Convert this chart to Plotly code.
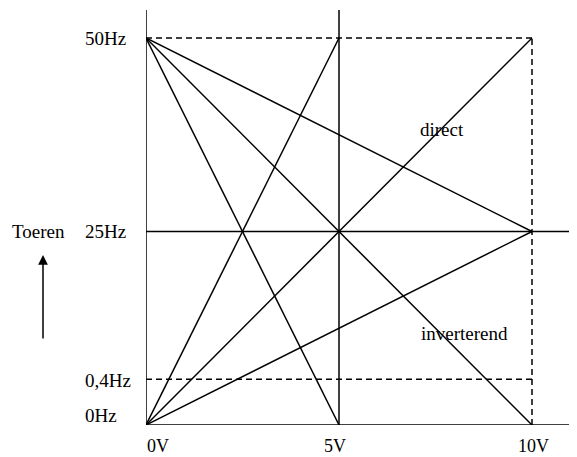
import plotly.graph_objects as go

# Axis values and labels
volts = [0, 5, 10]
volt_labels = ["0V", "5V", "10V"]
freq_pos = [0, 5.9, 25, 50]          # schematic positions on the vertical axis
freq_labels = ["0Hz", "0,4Hz", "25Hz", "50Hz"]

# Characteristic lines (start V, start Hz-pos, end V, end Hz-pos)
direct_lines = [(0, 0, 5, 50), (0, 0, 10, 50), (0, 0, 10, 25)]
invert_lines = [(0, 50, 5, 0), (0, 50, 10, 0), (0, 50, 10, 25)]

X_MAX = 431 * 10 / 386
Y_MAX = 415 * 50 / 387
FONT = "Liberation Serif, Times New Roman, serif"

fig = go.Figure()

def seg(x0, y0, x1, y1, dash="solid"):
    fig.add_trace(go.Scatter(x=[x0, x1], y=[y0, y1], mode="lines",
                             line=dict(color="black", width=1.5, dash=dash),
                             cliponaxis=False, hoverinfo="skip", showlegend=False))

# Frame lines (solid)
seg(volts[0], freq_pos[0], volts[0], Y_MAX)
seg(volts[1], freq_pos[0], volts[1], Y_MAX)
seg(volts[0], freq_pos[0], X_MAX, freq_pos[0])
seg(volts[0], freq_pos[2], X_MAX, freq_pos[2])

# Dashed lines
seg(volts[0], freq_pos[3], volts[2], freq_pos[3], dash="6px,4px")
seg(volts[0], freq_pos[1], volts[2], freq_pos[1], dash="6px,4px")
seg(volts[2], freq_pos[0], volts[2], freq_pos[3], dash="6px,4px")

for x0, y0, x1, y1 in direct_lines + invert_lines:
    seg(x0, y0, x1, y1)

px_x = 10 / 386   # data units per pixel (x)
px_y = 50 / 387   # data units per pixel (y)

def xp(x):  # data -> paper (x)
    return x / X_MAX

def yp(y):  # data -> paper (y)
    return y / Y_MAX

annotations = []
txt = dict(family=FONT, size=19, color="black")

# Y labels (left aligned)
y_offsets = [10, -1.5, 0, 0]
for pos, lab, off in zip(freq_pos, freq_labels, y_offsets):
    annotations.append(dict(x=xp(-63 * px_x), y=yp(pos + off * px_y), text=lab, showarrow=False,
                            xanchor="left", yanchor="middle", xref="paper", yref="paper", font=txt))

# X labels
x_centers = [158, 335, 533]
for v, lab, cx in zip(volts, volt_labels, x_centers):
    annotations.append(dict(x=xp((cx - 146) * px_x), y=yp(-21 * px_y), text=lab, showarrow=False,
                            xanchor="center", yanchor="middle", xref="paper", yref="paper",
                            font=dict(family=FONT, size=18, color="black"), borderpad=0))

annotations += [
    dict(x=xp((38.5 - 146) * px_x), y=yp(freq_pos[2]), text="Toeren", showarrow=False,
         xanchor="center", yanchor="middle", xref="paper", yref="paper", font=txt),
    dict(x=xp((418 - 146) * px_x), y=yp((425 - 129) * px_y), text="direct", showarrow=False,
         xanchor="left", yanchor="middle", xref="paper", yref="paper", font=txt),
    dict(x=xp((419 - 146) * px_x), y=yp((425 - 333) * px_y), text="inverterend", showarrow=False,
         xanchor="left", yanchor="middle", xref="paper", yref="paper", font=txt),
    dict(x=xp((43 - 146) * px_x), y=yp((425 - 255) * px_y), text="", showarrow=True,
         ax=0, ay=85, arrowhead=2, arrowsize=1.3, arrowwidth=1.5, arrowcolor="black",
         xref="paper", yref="paper"),
]

fig.update_layout(
    width=569, height=449,
    margin=dict(l=138, r=0, t=2, b=32),
    paper_bgcolor="white", plot_bgcolor="white",
    xaxis=dict(range=[0, X_MAX], visible=False, fixedrange=True),
    yaxis=dict(range=[0, Y_MAX], visible=False, fixedrange=True),
    annotations=annotations,
    showlegend=False,
)

fig.write_html("out.html")
